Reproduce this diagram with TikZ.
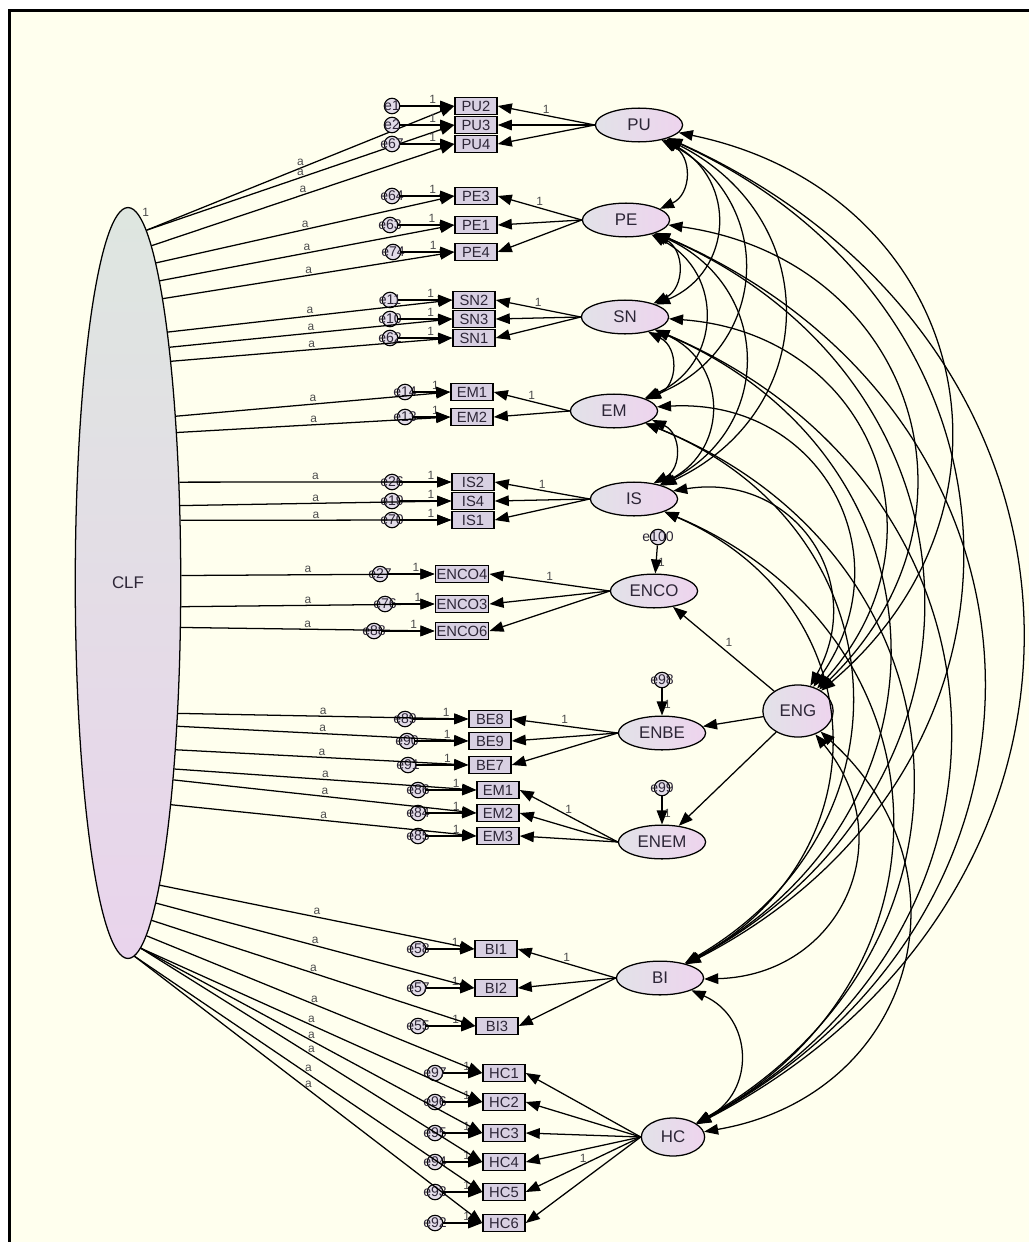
\documentclass[tikz,border=0pt]{standalone}
\usepackage{fontspec}
\setmainfont{Liberation Sans}
\usetikzlibrary{shapes.geometric,arrows.meta}
\definecolor{bgYellow}{RGB}{255,255,238}
\definecolor{latentL}{RGB}{226,226,232}
\definecolor{latentR}{RGB}{238,212,238}
\definecolor{clfTop}{RGB}{222,230,224}
\definecolor{clfBot}{RGB}{233,212,236}
\definecolor{itemFill}{RGB}{216,208,226}
\definecolor{errFill}{RGB}{226,220,232}
\definecolor{labelDark}{RGB}{45,38,55}
\tikzset{
    latent/.style={
        ellipse,
        draw=black,
        line width=0.9pt,
        left color=latentL,
        right color=latentR,
        minimum width=62pt,
        minimum height=24pt,
        inner sep=0pt,
        text=labelDark,
        font=\fontsize{12}{14}\selectfont
    },
    item/.style={rectangle, draw=black, line width=0.9pt, fill=itemFill, minimum width=30pt, minimum height=12pt, inner sep=1pt, text=labelDark, font=\fontsize{10.5}{11}\selectfont},
    err/.style={circle, draw=black, line width=0.8pt, fill=errFill, minimum size=11pt, inner sep=0pt},
    errText/.style={font=\fontsize{10}{10}\selectfont, text=labelDark, inner sep=0pt},
    fixLabel/.style={font=\fontsize{8.5}{9}\selectfont, text=gray!60!black, inner sep=1pt},
    loadArrow/.style={-{Triangle[length=10pt,width=7.5pt]}, line width=0.9pt},
    covArrow/.style={{Triangle[length=10pt,width=7.5pt]}-{Triangle[length=10pt,width=7.5pt]}, line width=0.9pt},
}
\begin{document}
\begin{tikzpicture}[x=0.025cm, y=-0.025cm]
    \useasboundingbox (0,0) rectangle (1029,1242);
    % Frame
    \fill[white] (0,0) rectangle (1029,1242);
    \fill[bgYellow] (9.5,10.5) rectangle (1029,1242);
    \draw[line width=2.1pt] (9.5,1242) -- (9.5,10.5) -- (1029,10.5);

    % Common latent factor
    \node[ellipse, draw=black, line width=0.9pt, top color=clfTop, bottom color=clfBot, minimum width=75pt, minimum height=534pt, inner sep=0pt, text=labelDark, font=\fontsize{12}{14}\selectfont] (CLF) at (128,583) {CLF};
    \node[fixLabel, above right] (clfOne) at (CLF.88) {1};

    % First order factors
    \node[latent] (PU) at (639,125) {PU};
    \node[latent] (PE) at (626,220) {PE};
    \node[latent] (SN) at (625,317) {SN};
    \node[latent] (EM) at (614,411) {EM};
    \node[latent] (IS) at (634,499) {IS};
    \node[latent] (ENCO) at (654,591) {ENCO};
    \node[latent] (ENBE) at (662,733) {ENBE};
    \node[latent] (ENEM) at (662,842) {ENEM};
    \node[latent, minimum width=50pt, minimum height=37pt] (ENG) at (798,711) {ENG};
    \node[latent] (BI) at (660,978) {BI};
    \node[latent, minimum width=45pt, minimum height=27pt] (HC) at (673,1137) {HC};

    % Indicators, errors and loadings
    \foreach \lat/\n/\t/\x/\y/\e/\ex/\ang/\f in {
        PU/pu2/PU2/476/106/e1/392/87.6/1, PU/pu3/PU3/476/125/e2/392/87.2/{}, PU/pu4/PU4/476/144/e67/392/86.7/{},
        PE/pe3/PE3/476/196/e64/392/85.3/1, PE/pe1/PE1/476/225/e63/390/84.5/{}, PE/pe4/PE4/476/252/e74/393/83.1/{},
        SN/sn2/SN2/474/300/e11/390/81.8/1, SN/sn3/SN3/474/319/e10/390/80.3/{}, SN/sn1/SN1/474/338/e62/390/79.2/{},
        EM/em1/EM1/472/392/e14/405/74.9/1, EM/em2/EM2/472/417/e13/405/72.7/{},
        IS/is2/IS2/473/482/e26/392/63.4/1, IS/is4/IS4/473/501/e19/392/56.8/{}, IS/is1/IS1/473/520/e70/392/50.7/{},
        ENCO/enco4/ENCO4/462/574/e27/380/8/1, ENCO/enco3/ENCO3/462/604/e76/385/-24.7/{}, ENCO/enco6/ENCO6/462/631/e88/374/-40.7/{},
        ENBE/be8/BE8/490/719/e89/405/-69/1, ENBE/be9/BE9/490/741/e90/407/-71.4/{}, ENBE/be7/BE7/490/765/e91/408/-74.5/{},
        ENEM/nm1/EM1/498/790/e86/418/-76.7/1, ENEM/nm2/EM2/498/813/e84/418/-77.9/{}, ENEM/nm3/EM3/498/836/e85/418/-79.4/{},
        BI/bi1/BI1/496/949/e58/418/-84.4/1, BI/bi2/BI2/496/988/e57/418/-85.6/{}, BI/bi3/BI3/497/1026/e55/418/-86.7/{},
        HC/hc1/HC1/504/1073/e97/435/-87.5/{}, HC/hc2/HC2/504/1102/e96/435/-88/{}, HC/hc3/HC3/504/1133/e95/435/-88.4/{},
        HC/hc4/HC4/504/1162/e94/435/-88.8/{}, HC/hc5/HC5/504/1192/e93/435/-89.2/1, HC/hc6/HC6/504/1223/e92/435/-89.6/{}}{
        \node[item] (\n) at (\x,\y) {\t};
        \node[err, label={[errText]center:\e}] (e\n) at (\ex,\y) {};
        \draw[loadArrow] (e\n) -- node[fixLabel, above, pos=0.6] {1} (\n);
        \draw[loadArrow] (\lat.west) -- node[fixLabel, above, pos=0.5] {\f} (\n.east);
        \draw[loadArrow] (CLF.\ang) -- node[fixLabel, above, pos=0.5] {a} (\n.west);
    }

    % Second order factor
    \draw[loadArrow] (ENG) -- node[fixLabel, above right] {1} (ENCO);
    \draw[loadArrow] (ENG) -- (ENBE);
    \draw[loadArrow] (ENG) -- (ENEM);

    % Disturbances
    \node[err, label={[errText]center:e100}] (e100) at (658,537) {};
    \node[err, label={[errText]center:e98}] (e98) at (662,680) {};
    \node[err, label={[errText]center:e99}] (e99) at (662,788) {};
    \draw[loadArrow] (e100) -- node[fixLabel, right, pos=0.6] {1} (ENCO);
    \draw[loadArrow] (e98) -- node[fixLabel, right, pos=0.6] {1} (ENBE);
    \draw[loadArrow] (e99) -- node[fixLabel, right, pos=0.6] {1} (ENEM);

    % Covariances
    \foreach \a/\others in {PU/{PE,SN,EM,IS,ENG,BI,HC}, PE/{SN,EM,IS,ENG,BI,HC}, SN/{EM,IS,ENG,BI,HC}, EM/{IS,ENG,BI,HC}, IS/{ENG,BI,HC}, ENG/{BI,HC}, BI/{HC}}
        \foreach \b in \others
            \draw[covArrow] (\a) to[bend left=64, looseness=1.3] (\b);

\end{tikzpicture}
\end{document}
